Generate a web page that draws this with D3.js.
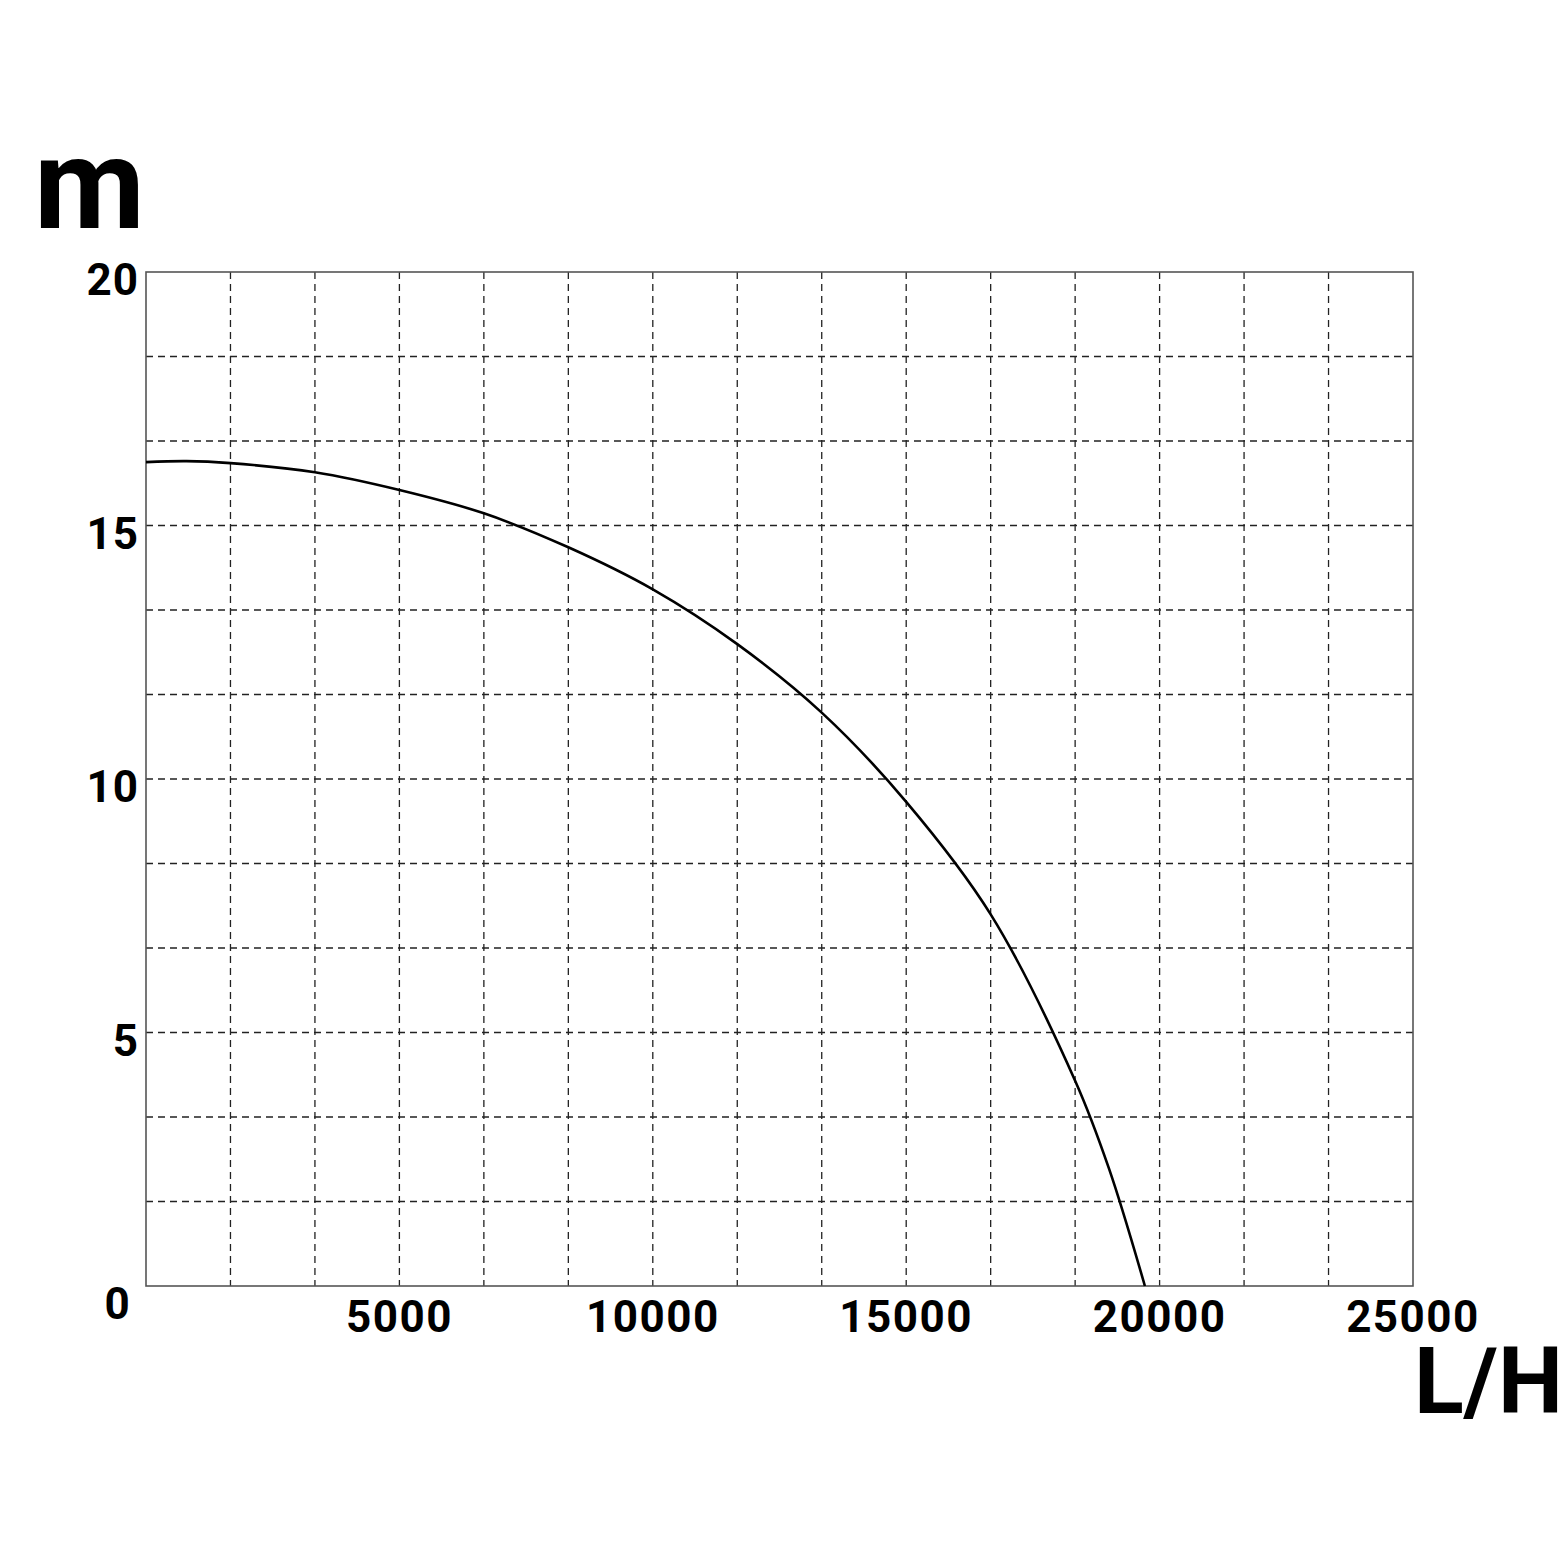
<!DOCTYPE html>
<html>
<head>
<meta charset="utf-8">
<script src="https://cdn.jsdelivr.net/npm/d3@7"></script>
<style>
  html, body { margin: 0; padding: 0; background: #fff; }
  text { font-family: Roboto, "Liberation Sans", sans-serif; fill: #000; }
</style>
</head>
<body>
<div id="chart"></div>
<script>
// pump curve, flow (L/H) vs head (m)
var flow = [0, 800, 1667, 3333, 5000, 6667, 8333, 10000, 11667, 13333, 15000, 16667, 18333, 19000, 19710];
var head = [16.25, 16.27, 16.23, 16.05, 15.70, 15.24, 14.57, 13.74, 12.66, 11.31, 9.55, 7.33, 4.05, 2.32, 0];

var xTicks = [5000, 10000, 15000, 20000, 25000];
var yTicks = [5, 10, 15, 20];
var xDivisions = 15;
var yDivisions = 12;

window.onload = function() {

	var svg = d3.select("#chart")
		.append("svg")
		.attr("width", 1560)
		.attr("height", 1560);

	var x = d3.scaleLinear().domain([0, 25000]).range([146, 1413]);
	var y = d3.scaleLinear().domain([0, 20]).range([1286, 272]);

	// dashed grid
	var gx = d3.range(1, xDivisions).map(function(i) { return i * 25000 / xDivisions; });
	var gy = d3.range(1, yDivisions).map(function(i) { return i * 20 / yDivisions; });

	svg.selectAll(".gx")
		.data(gx)
		.enter()
		.append("line")
		.attr("x1", function(d) { return x(d); })
		.attr("x2", function(d) { return x(d); })
		.attr("y1", y(20))
		.attr("y2", y(0))
		.attr("stroke", "#222")
		.attr("stroke-width", 1.3)
		.attr("stroke-dasharray", "7,5");

	svg.selectAll(".gy")
		.data(gy)
		.enter()
		.append("line")
		.attr("x1", x(0))
		.attr("x2", x(25000))
		.attr("y1", function(d) { return y(d); })
		.attr("y2", function(d) { return y(d); })
		.attr("stroke", "#222")
		.attr("stroke-width", 1.3)
		.attr("stroke-dasharray", "7,5");

	// frame
	svg.append("rect")
		.attr("x", x(0))
		.attr("y", y(20))
		.attr("width", x(25000) - x(0))
		.attr("height", y(0) - y(20))
		.attr("fill", "none")
		.attr("stroke", "#555")
		.attr("stroke-width", 1.6);

	// curve
	var line = d3.line()
		.x(function(d, i) { return x(flow[i]); })
		.y(function(d) { return y(d); })
		.curve(d3.curveCatmullRom.alpha(0.5));

	svg.append("path")
		.datum(head)
		.attr("d", line)
		.attr("fill", "none")
		.attr("stroke", "#000")
		.attr("stroke-width", 2.6);

	// tick labels
	svg.selectAll(".xl")
		.data(xTicks)
		.enter()
		.append("text")
		.attr("x", function(d) { return x(d); })
		.attr("y", y(0) + 46)
		.attr("text-anchor", "middle")
		.attr("font-size", 44)
		.attr("font-weight", 700)
		.attr("letter-spacing", 1.5)
		.text(function(d) { return d; });

	svg.selectAll(".yl")
		.data(yTicks)
		.enter()
		.append("text")
		.attr("x", x(0) - 7)
		.attr("y", function(d) { return y(d) + 23; })
		.attr("text-anchor", "end")
		.attr("font-size", 44)
		.attr("font-weight", 700)
		.attr("letter-spacing", 1)
		.text(function(d) { return d; });

	svg.append("text")
		.attr("x", x(0) - 29)
		.attr("y", y(0) + 33)
		.attr("text-anchor", "middle")
		.attr("font-size", 44)
		.attr("font-weight", 700)
		.text("0");

	// axis titles
	svg.append("text")
		.attr("x", 34)
		.attr("y", 228)
		.attr("font-size", 128)
		.attr("font-weight", 700)
		.text("m");

	svg.append("text")
		.attr("x", 1414)
		.attr("y", 1413)
		.attr("font-size", 92)
		.attr("font-weight", 700)
		.text("L/H");
}
</script>
</body>
</html>
